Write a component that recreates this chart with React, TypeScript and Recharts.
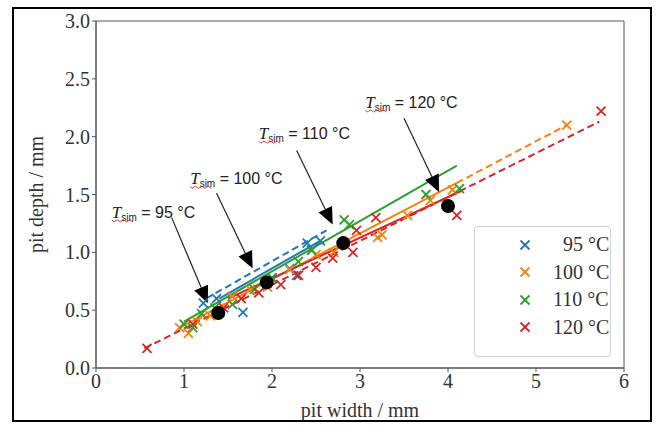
import {
  ComposedChart,
  Line,
  Scatter,
  XAxis,
  YAxis,
  ReferenceArea,
  ReferenceLine,
  ReferenceDot,
} from "recharts";

const xTicks = [0, 1, 2, 3, 4, 5, 6];
const yTicks = [0, 0.5, 1, 1.5, 2, 2.5, 3];

const labels = ["95 °C", "100 °C", "110 °C", "120 °C"];
const colors = ["#1f77b4", "#ff7f0e", "#2ca02c", "#d62728"];

// measured pits
const x95 = [1.22, 1.37, 1.67, 2.0, 2.2, 2.28, 2.4, 2.45, 2.55];
const y95 = [0.56, 0.6, 0.48, 0.78, 0.86, 0.8, 1.08, 1.02, 1.1];
const x100 = [0.95, 1.05, 1.15, 1.3, 1.55, 1.75, 1.95, 2.2, 2.5, 2.7, 3.2, 3.25, 3.54, 3.8, 4.05, 5.35];
const y100 = [0.35, 0.3, 0.4, 0.45, 0.62, 0.68, 0.7, 0.85, 0.98, 1.0, 1.13, 1.15, 1.32, 1.45, 1.54, 2.1];
const x110 = [1.0, 1.1, 1.2, 1.35, 1.55, 1.8, 2.0, 2.3, 2.45, 2.82, 2.88, 3.75, 4.13];
const y110 = [0.38, 0.35, 0.47, 0.52, 0.55, 0.68, 0.78, 0.92, 1.02, 1.28, 1.24, 1.5, 1.55];
const x120 = [0.58, 1.1, 1.45, 1.65, 1.85, 2.1, 2.3, 2.5, 2.69, 2.92, 2.96, 3.18, 4.1, 5.74];
const y120 = [0.17, 0.38, 0.52, 0.6, 0.65, 0.72, 0.8, 0.87, 0.95, 1.0, 1.19, 1.3, 1.32, 2.22];

// simulated pits
const simX = [1.39, 1.94, 2.81, 4.0];
const simY = [0.475, 0.74, 1.08, 1.4];

// fit lines: [x0, x1], [y0, y1], dashed?
const fitX = [[1.25, 2.62], [1.4, 2.55], [0.95, 4.1], [4.1, 5.35], [1.0, 4.1], [0.55, 5.72], [1.5, 4.15]];
const fitY = [[0.6, 1.19], [0.6, 1.1], [0.35, 1.6], [1.6, 2.1], [0.4, 1.75], [0.17, 2.13], [0.6, 1.53]];
const fitSeries = [0, 0, 1, 1, 2, 3, 3];
const fitDashed = [true, false, false, true, false, true, false];

// annotations
const annText = ["95 °C", "100 °C", "110 °C", "120 °C"];
const annTextX = [0.18, 1.07, 1.85, 3.06];
const annTextY = [1.35, 1.64, 2.03, 2.3];
const arrowFromX = [0.86, 1.37, 2.28, 3.5];
const arrowFromY = [1.3, 1.51, 1.88, 2.16];
const arrowToX = [1.27, 1.78, 2.69, 3.9];
const arrowToY = [0.56, 0.86, 1.24, 1.52];

const measured = [
  [x95, y95],
  [x100, y100],
  [x110, y110],
  [x120, y120],
].map(([xs, ys]) => xs.map((x, i) => ({ x, y: ys[i] })));

const simData = simX.map((x, i) => ({ x, y: simY[i] }));

const CrossMark = (props: any) => {
  const { cx, cy, fill } = props;
  const s = 4.5;
  return (
    <path
      d={`M${cx - s},${cy - s}L${cx + s},${cy + s}M${cx - s},${cy + s}L${cx + s},${cy - s}`}
      stroke={fill}
      strokeWidth={1.8}
      fill="none"
    />
  );
};

const Arrow = (props: any) => {
  const { x1, y1, x2, y2 } = props;
  const dx = x2 - x1;
  const dy = y2 - y1;
  const len = Math.sqrt(dx * dx + dy * dy);
  const ux = dx / len;
  const uy = dy / len;
  const hl = 17;
  const hw = 7.5;
  const bx = x2 - ux * hl;
  const by = y2 - uy * hl;
  return (
    <g>
      <line x1={x1} y1={y1} x2={bx} y2={by} stroke="#222" strokeWidth={1.2} />
      <polygon
        points={`${x2},${y2} ${bx - uy * hw},${by + ux * hw} ${bx + uy * hw},${by - ux * hw}`}
        fill="#000"
      />
    </g>
  );
};

const TsimLabel = ({ cx, cy, text }: any) => {
  let wave = `M${cx},${cy + 8}`;
  for (let i = 0; i < 7; i++) {
    wave += `L${cx + 2 + i * 3.2},${cy + (i % 2 === 0 ? 10 : 8)}`;
  }
  return (
    <g>
      <text x={cx} y={cy + 6} fontFamily="Liberation Sans, Arial, sans-serif" fontSize={16} fill="#222">
        <tspan fontStyle="italic" fontFamily="Liberation Serif, serif" fontSize={17}>
          T
        </tspan>
        <tspan fontSize={10} dy={3}>
          sim
        </tspan>
        <tspan dy={-3}> = {text}</tspan>
      </text>
      <path d={wave} stroke="#d62728" strokeWidth={0.9} fill="none" />
    </g>
  );
};

const LegendBox = () => (
  <div
    style={{
      position: "absolute",
      left: 474,
      top: 226,
      width: 137,
      height: 131,
      border: "1px solid #d0d0d0",
      borderRadius: 4,
      background: "#fff",
      boxSizing: "border-box",
      paddingTop: 4,
    }}
  >
    {labels.map((l, i) => (
      <div
        key={l}
        style={{
          display: "flex",
          alignItems: "center",
          height: 27.5,
          fontFamily: "Liberation Serif, serif",
          fontSize: 20,
          color: "#333",
        }}
      >
        <svg width={60} height={20}>
          <CrossMark cx={50} cy={10} fill={colors[i]} />
        </svg>
        <span style={{ marginLeft: i === 0 ? 28 : 18 }}>{l}</span>
      </div>
    ))}
  </div>
);

export default function App() {
  return (
    <div style={{ position: "absolute", left: 0, top: 0, width: 657, height: 431, background: "#fff" }}>
      <ComposedChart width={657} height={431} margin={{ top: 21, right: 33, bottom: 0, left: 0 }}>
        <XAxis
          type="number"
          dataKey="x"
          domain={[0, 6]}
          ticks={xTicks}
          height={63}
          stroke="#555"
          tickSize={4}
          tick={{ fill: "#333", fontFamily: "Liberation Serif, serif", fontSize: 20 }}
          label={{
            value: "pit width / mm",
            position: "insideBottom",
            offset: 14,
            style: { fill: "#333", fontFamily: "Liberation Serif, serif", fontSize: 20 },
          }}
        />
        <YAxis
          type="number"
          dataKey="y"
          domain={[0, 3]}
          ticks={yTicks}
          width={96}
          stroke="#555"
          tickSize={4}
          tickFormatter={(v) => v.toFixed(1)}
          tick={{ fill: "#333", fontFamily: "Liberation Serif, serif", fontSize: 20 }}
          label={{
            value: "pit depth / mm",
            angle: -90,
            position: "insideLeft",
            offset: 36,
            style: { textAnchor: "middle", fill: "#333", fontFamily: "Liberation Serif, serif", fontSize: 20 },
          }}
        />
        <ReferenceArea x1={0} x2={6} y1={0} y2={3} fill="none" stroke="#555" strokeWidth={1} />
        {fitX.map((xs, i) => (
          <Line
            key={`fit${i}`}
            data={xs.map((x, j) => ({ x, y: fitY[i][j] }))}
            dataKey="y"
            stroke={colors[fitSeries[i]]}
            strokeWidth={2}
            strokeDasharray={fitDashed[i] ? "7 4" : undefined}
            dot={false}
            activeDot={false}
            legendType="none"
            isAnimationActive={false}
          />
        ))}
        {measured.map((d, i) => (
          <Scatter
            key={labels[i]}
            name={labels[i]}
            data={d}
            fill={colors[i]}
            shape={<CrossMark />}
            isAnimationActive={false}
          />
        ))}
        <Scatter data={simData} fill="#000" shape={(p: any) => <circle cx={p.cx} cy={p.cy} r={7} fill="#000" />} legendType="none" isAnimationActive={false} />
        {annText.map((t, i) => (
          <ReferenceLine
            key={`arr${i}`}
            segment={[
              { x: arrowFromX[i], y: arrowFromY[i] },
              { x: arrowToX[i], y: arrowToY[i] },
            ]}
            shape={<Arrow />}
          />
        ))}
        {annText.map((t, i) => (
          <ReferenceDot
            key={`ann${i}`}
            x={annTextX[i]}
            y={annTextY[i]}
            r={1}
            shape={(p: any) => <TsimLabel cx={p.cx} cy={p.cy} text={t} />}
          />
        ))}
      </ComposedChart>
      <LegendBox />
      <div
        style={{
          position: "absolute",
          left: 12,
          top: 7,
          width: 640,
          height: 415,
          border: "2.5px solid #000",
          boxSizing: "border-box",
          pointerEvents: "none",
        }}
      />
    </div>
  );
}
